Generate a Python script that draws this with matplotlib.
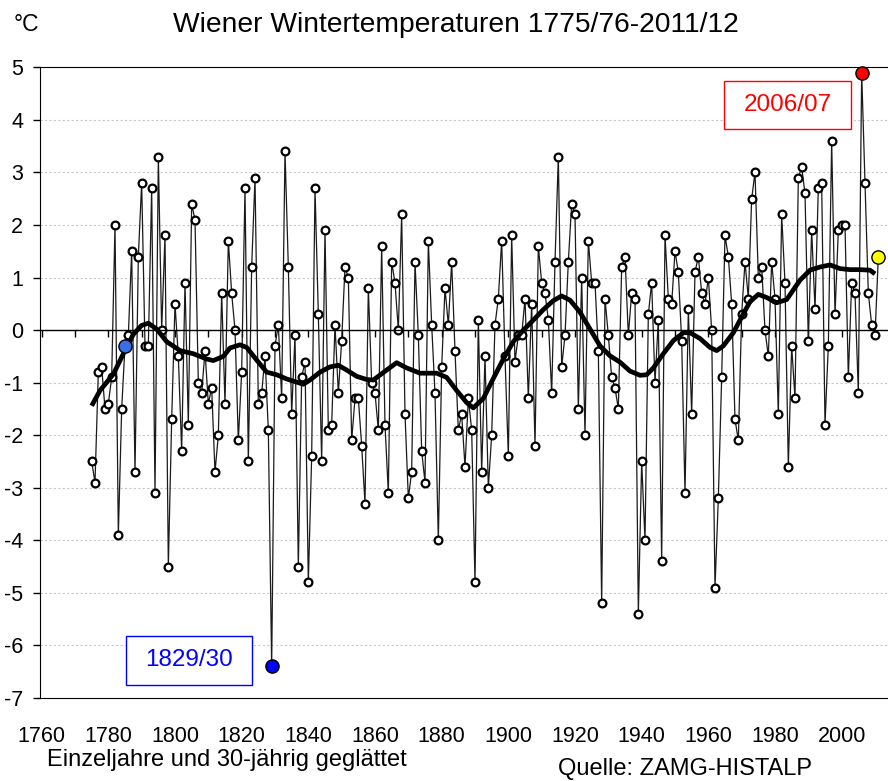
import matplotlib
matplotlib.use("Agg")
import matplotlib.pyplot as plt
from matplotlib.patches import Rectangle

plt.rcParams['font.family'] = ['Liberation Sans', 'DejaVu Sans']
plt.rcParams['axes.unicode_minus'] = False

# winter mean temperature per winter (year = first year of the winter)
years = list(range(1775, 2012))
temps = [
    -2.5, -2.9, -0.8, -0.7, -1.5,                                  # 1775-1779
    -1.4, -0.9, 2.0, -3.9, -1.5, -0.3, -0.1, 1.5, -2.7, 1.4,       # 1780s
    2.8, -0.3, -0.3, 2.7, -3.1, 3.3, 0.0, 1.8, -4.5, -1.7,         # 1790s
    0.5, -0.5, -2.3, 0.9, -1.8, 2.4, 2.1, -1.0, -1.2, -0.4,        # 1800s
    -1.4, -1.1, -2.7, -2.0, 0.7, -1.4, 1.7, 0.7, 0.0, -2.1,        # 1810s
    -0.8, 2.7, -2.5, 1.2, 2.9, -1.4, -1.2, -0.5, -1.9, -6.4,       # 1820s
    -0.3, 0.1, -1.3, 3.4, 1.2, -1.6, -0.1, -4.5, -0.9, -0.6,       # 1830s
    -4.8, -2.4, 2.7, 0.3, -2.5, 1.9, -1.9, -1.8, 0.1, -1.2,        # 1840s
    -0.2, 1.2, 1.0, -2.1, -1.3, -1.3, -2.2, -3.3, 0.8, -1.0,       # 1850s
    -1.2, -1.9, 1.6, -1.8, -3.1, 1.3, 0.9, 0.0, 2.2, -1.6,         # 1860s
    -3.2, -2.7, 1.3, -0.1, -2.3, -2.9, 1.7, 0.1, -1.2, -4.0,       # 1870s
    -0.7, 0.8, 0.1, 1.3, -0.4, -1.9, -1.6, -2.6, -1.3, -1.9,       # 1880s
    -4.8, 0.2, -2.7, -0.5, -3.0, -2.0, 0.1, 0.6, 1.7, -0.5,        # 1890s
    -2.4, 1.8, -0.6, -0.1, -0.1, 0.6, -1.3, 0.5, -2.2, 1.6,        # 1900s
    0.9, 0.7, 0.2, -1.2, 1.3, 3.3, -0.7, -0.1, 1.3, 2.4,           # 1910s
    2.2, -1.5, 1.0, -2.0, 1.7, 0.9, 0.9, -0.4, -5.2, 0.6,          # 1920s
    -0.1, -0.9, -1.1, -1.5, 1.2, 1.4, -0.1, 0.7, 0.6, -5.4,        # 1930s
    -2.5, -4.0, 0.3, 0.9, -1.0, 0.2, -4.4, 1.8, 0.6, 0.5,          # 1940s
    1.5, 1.1, -0.2, -3.1, 0.4, -1.6, 1.1, 1.4, 0.7, 0.5,           # 1950s
    1.0, 0.0, -4.9, -3.2, -0.9, 1.8, 1.4, 0.5, -1.7, -2.1,         # 1960s
    0.3, 1.3, 0.6, 2.5, 3.0, 1.0, 1.2, 0.0, -0.5, 1.3,             # 1970s
    0.6, -1.6, 2.2, 0.9, -2.6, -0.3, -1.3, 2.9, 3.1, 2.6,          # 1980s
    -0.2, 1.9, 0.4, 2.7, 2.8, -1.8, -0.3, 3.6, 0.3, 1.9,           # 1990s
    2.0, 2.0, -0.9, 0.9, 0.7, -1.2, 4.9, 2.8, 0.7, 0.1,            # 2000s
    -0.1, 1.4,                                                     # 2010-2011
]

# 30-year smoothed curve
smooth_years = [1775, 1777.5, 1781.5, 1784.5, 1787.5, 1790, 1792, 1794.5, 1797.5,
                1801.5, 1805.5, 1809.5, 1811.5, 1814.5, 1816.5, 1819.5, 1821.5,
                1824.5, 1827.5, 1830.5, 1833.5, 1838.5, 1840.5, 1843.5, 1846.5,
                1849, 1851.5, 1854.5, 1857.5, 1859.5, 1863.5, 1866.5, 1869.5,
                1873.5, 1878.5, 1881.5, 1884.5, 1887.5, 1889.5, 1892.5, 1895.5,
                1898.5, 1901.5, 1904.5, 1907.5, 1910.5, 1913.5, 1916, 1918.5,
                1921.5, 1924.5, 1927.5, 1930.5, 1933.5, 1936.5, 1939.5, 1941.5,
                1943.5, 1946.5, 1949.5, 1952.5, 1954.5, 1957.5, 1960.5, 1962.5,
                1964.5, 1967.5, 1970.5, 1972.5, 1975, 1977.5, 1980.5, 1983.5,
                1987.5, 1990.5, 1993.5, 1996.5, 1999.5, 2002.5, 2005.5, 2008.5, 2010]
smooth_vals = [-1.44, -1.15, -0.84, -0.45, -0.08, 0.09, 0.13, 0.02, -0.22,
               -0.39, -0.45, -0.55, -0.58, -0.50, -0.34, -0.28, -0.33,
               -0.57, -0.80, -0.85, -0.93, -1.03, -0.95, -0.80, -0.70,
               -0.67, -0.76, -0.88, -0.94, -0.95, -0.76, -0.62, -0.72,
               -0.82, -0.82, -0.90, -1.15, -1.38, -1.48, -1.30, -0.92,
               -0.55, -0.22, 0.00, 0.19, 0.39, 0.56, 0.65, 0.57,
               0.34, 0.02, -0.30, -0.49, -0.61, -0.78, -0.86, -0.85,
               -0.72, -0.45, -0.20, -0.05, -0.05, -0.16, -0.33, -0.39,
               -0.30, -0.05, 0.31, 0.54, 0.68, 0.62, 0.52, 0.58,
               0.95, 1.14, 1.20, 1.24, 1.17, 1.15, 1.15, 1.14, 1.07]

highlight = {1785: '#3a6ee8', 1829: '#0000ff', 2006: '#ff0000', 2011: '#ffff00'}
xlabels = list(range(1760, 2001, 20))

W, H = 888, 781
fig = plt.figure(figsize=(W / 100, H / 100), dpi=100)
ax = fig.add_axes([40 / W, 1 - 698 / H, 848 / W, (698 - 67.3) / H])

def px(x, y):
    return x / W, 1 - y / H

ax.set_xlim(1759.5, 2013.9)
ax.set_ylim(-7, 5)

# gridlines
for v in range(-6, 5):
    ax.axhline(v, color='#c8c8c8', lw=0.8, ls=(0, (2, 2)), zorder=0)

ax.plot(years, temps, color='#1a1a1a', lw=0.9, marker='o', ms=5.6, mfc='white',
        mec='black', mew=1.6, zorder=2)
ax.plot(smooth_years, smooth_vals, color='black', lw=3.4, solid_capstyle='butt', zorder=3)

for yr, c in highlight.items():
    ax.plot(yr, temps[years.index(yr)], 'o', ms=9.5, mfc=c, mec='black', mew=1,
            zorder=5, clip_on=False)

# axes: zero line with decade ticks, frame at top/left/bottom
ax.spines['right'].set_visible(False)
ax.spines['bottom'].set_position(('data', 0))
ax.spines['bottom'].set_linewidth(1)
ax.set_xticks(range(1760, 2011, 10))
ax.tick_params(axis='x', direction='out', length=5, width=1, labelbottom=False)
ax.set_yticks(range(-7, 6))
ax.tick_params(axis='y', direction='out', length=5, width=1, pad=7, labelsize=15.5)

sec = ax.secondary_xaxis(0)
sec.set_xticks(xlabels)
sec.tick_params(length=0, pad=20, labelsize=15.5)

# texts
fig.text(*px(172.7, 31.7), 'Wiener Wintertemperaturen 1775/76-2011/12',
         fontsize=20.3, ha='left', va='baseline')
fig.text(*px(13.3, 30.7), '°C', fontsize=16.5, ha='left', va='baseline')
fig.text(*px(46.7, 766), 'Einzeljahre und 30-jährig geglättet',
         fontsize=17, ha='left', va='baseline')
fig.text(*px(558, 775), 'Quelle: ZAMG-HISTALP', fontsize=17, ha='left', va='baseline')

# annotation boxes
for (x0, y0, x1, y1, txt, c) in [(724, 80.7, 851, 129, '2006/07', '#ff0000'),
                                  (126, 636, 252, 685, '1829/30', '#0000ff')]:
    fig.patches.append(Rectangle(px(x0, y1), (x1 - x0) / W, (y1 - y0) / H,
                                 transform=fig.transFigure, fill=True, fc='white',
                                 ec=c, lw=1, zorder=4))
    fig.text(*px((x0 + x1) / 2, (y0 + y1) / 2), txt, color=c, fontsize=17.5,
             ha='center', va='center', zorder=6)

fig.savefig('out.png', dpi=100)
